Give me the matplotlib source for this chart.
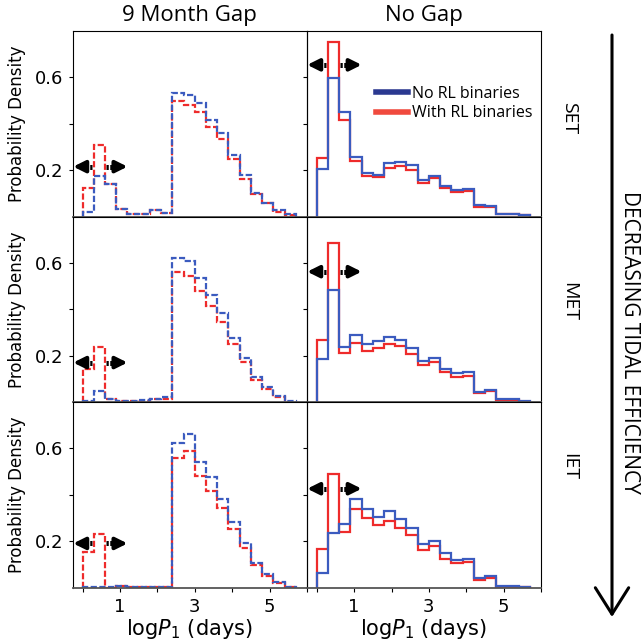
import matplotlib
matplotlib.use('Agg')
import matplotlib.pyplot as plt
from matplotlib.lines import Line2D
from matplotlib import font_manager as fm

# ---------------- data ----------------
bin_edges = [0.0, 0.3, 0.6, 0.9, 1.2, 1.5, 1.8, 2.1, 2.4, 2.7, 3.0,
             3.3, 3.6, 3.9, 4.2, 4.5, 4.8, 5.1, 5.4, 5.7]

set_gap_norl = [0.021, 0.176, 0.14, 0.033, 0.01, 0.01, 0.029, 0.017, 0.534, 0.526,
                0.489, 0.417, 0.36, 0.264, 0.179, 0.1, 0.06, 0.029, 0.01]
set_gap_rl = [0.121, 0.307, 0.14, 0.033, 0.01, 0.01, 0.029, 0.017, 0.497, 0.483,
              0.45, 0.386, 0.333, 0.246, 0.161, 0.096, 0.057, 0.021, 0.007]
set_nogap_norl = [0.207, 0.596, 0.45, 0.256, 0.189, 0.177, 0.229, 0.233, 0.221, 0.157,
                  0.176, 0.133, 0.114, 0.117, 0.05, 0.047, 0.011, 0.011, 0.007]
set_nogap_rl = [0.253, 0.754, 0.417, 0.239, 0.176, 0.17, 0.211, 0.216, 0.2, 0.146,
                0.167, 0.123, 0.107, 0.11, 0.043, 0.043, 0.01, 0.01, 0.007]

met_gap_norl = [0.004, 0.047, 0.015, 0.004, 0.004, 0.008, 0.014, 0.021, 0.622, 0.607,
                0.535, 0.463, 0.382, 0.278, 0.191, 0.109, 0.064, 0.027, 0.004]
met_gap_rl = [0.141, 0.238, 0.015, 0.004, 0.004, 0.006, 0.011, 0.014, 0.56, 0.545,
              0.477, 0.412, 0.343, 0.249, 0.172, 0.097, 0.054, 0.022, 0.002]
met_nogap_norl = [0.184, 0.483, 0.238, 0.288, 0.249, 0.261, 0.281, 0.269, 0.235, 0.177,
                  0.191, 0.141, 0.123, 0.129, 0.043, 0.053, 0.011, 0.011, 0.004]
met_nogap_rl = [0.269, 0.685, 0.212, 0.256, 0.22, 0.235, 0.249, 0.24, 0.209, 0.16,
                0.171, 0.131, 0.108, 0.112, 0.037, 0.047, 0.008, 0.008, 0.002]

iet_gap_norl = [0.001, 0.001, 0.001, 0.006, 0.004, 0.001, 0.001, 0.001, 0.625, 0.661,
                0.542, 0.475, 0.383, 0.281, 0.19, 0.107, 0.057, 0.023, 0.001]
iet_gap_rl = [0.151, 0.23, 0.0, 0.006, 0.004, 0.001, 0.001, 0.001, 0.557, 0.588,
              0.48, 0.417, 0.342, 0.252, 0.172, 0.096, 0.049, 0.02, 0.001]
iet_nogap_norl = [0.064, 0.236, 0.272, 0.381, 0.339, 0.306, 0.328, 0.296, 0.255, 0.186,
                  0.201, 0.149, 0.12, 0.125, 0.041, 0.049, 0.007, 0.007, 0.001]
iet_nogap_rl = [0.168, 0.491, 0.241, 0.338, 0.301, 0.27, 0.287, 0.258, 0.226, 0.161,
                0.178, 0.125, 0.107, 0.11, 0.033, 0.042, 0.004, 0.004, 0.001]

row_labels = ['SET', 'MET', 'IET']
col_titles = ['9 Month Gap', 'No Gap']
legend_labels = ['No RL binaries', 'With RL binaries']
x_ticks = [0, 1, 2, 3, 4, 5, 6]
x_tick_labels = ['', '1', '', '3', '', '5', '']
y_ticks = [0.2, 0.4, 0.6]
y_tick_labels = ['0.2', '', '0.6']
side_text = 'DECREASING TIDAL EFFICIENCY'

panels = [
    [(set_gap_norl, set_gap_rl), (set_nogap_norl, set_nogap_rl)],
    [(met_gap_norl, met_gap_rl), (met_nogap_norl, met_nogap_rl)],
    [(iet_gap_norl, iet_gap_rl), (iet_nogap_norl, iet_nogap_rl)],
]
# vertical position of the double arrows (annotation positions)
arrow_y = [[0.215, 0.654], [0.17, 0.562], [0.19, 0.426]]

# ---------------- style ----------------
BLUE = '#3b5bbf'
RED = '#ee2b2b'
LEG_BLUE = '#2b3990'
LEG_RED = '#f04a3e'


def has_font(name):
    try:
        fm.findfont(fm.FontProperties(family=name), fallback_to_default=False)
        return True
    except Exception:
        return False


NARROW = None
for cand in ['Liberation Sans Narrow', 'DejaVu Sans Condensed']:
    if has_font(cand):
        NARROW = cand
        break
HUMAN = 'Open Sans' if has_font('Open Sans') else 'DejaVu Sans'

W = H = 643.0
fig = plt.figure(figsize=(6.43, 6.43), dpi=100)

col_x = [72.5, 306.5]
col_w = 234.5
row_top = [31.0, 216.5, 402.0]
row_h = 185.5

for r in range(3):
    for c in range(2):
        ax = fig.add_axes([col_x[c] / W, 1 - (row_top[r] + row_h) / H, col_w / W, row_h / H])
        norl, rl = panels[r][c]
        ls = (0, (2.8, 1.1)) if c == 0 else '-'
        ax.stairs(rl, bin_edges, color=RED, lw=1.6, linestyle=ls, baseline=0)
        ax.stairs(norl, bin_edges, color=BLUE, lw=1.6, linestyle=ls, baseline=0)
        ax.set_ylim(0, 0.8)
        ax.set_xlim(-0.27 if c == 0 else -0.275, 6.0)
        ax.set_yticks(y_ticks)
        ax.set_xticks(x_ticks)
        ax.tick_params(axis='both', direction='out', length=3, width=0.8,
                       labelsize=13, pad=3.5)
        if c == 0:
            ax.set_yticklabels(y_tick_labels)
            ax.set_ylabel('Probability Density', fontsize=12)
            ax.yaxis.set_label_coords(-0.2, 0.5)
        else:
            ax.set_yticklabels([])
        if r == 2:
            ax.set_xticklabels(x_tick_labels)
            ax.tick_params(axis='x', pad=4.5)
            ax.set_xlabel(r'log$P_1$ (days)', fontsize=15)
            ax.xaxis.set_label_coords(0.5, -0.16)
        else:
            ax.tick_params(axis='x', length=0, labelbottom=False)
        for s in ['left', 'right', 'top']:
            ax.spines[s].set_linewidth(0.8)
            ax.spines[s].set_color('black')
        ax.spines['bottom'].set_linewidth(1.3)
        ax.spines['bottom'].set_color('#555555')
        ax.patch.set_alpha(0)

        # double arrow (dotted shaft near the middle, solid heads at the ends)
        y = arrow_y[r][c]
        x_left_tip = ax.get_xlim()[0] + 0.02
        for x_in, x_tip, sgn in [(0.26, x_left_tip, -1), (0.63, 1.2, 1)]:
            ax.plot([x_in, x_tip - sgn * 0.3], [y, y], color='black', lw=3.6,
                    linestyle=(0, (0.45, 0.3)), dash_capstyle='butt', clip_on=False)
            ax.annotate('', xy=(x_tip, y), xytext=(x_tip - sgn * 0.36, y),
                        arrowprops=dict(arrowstyle='-|>,head_length=0.7,head_width=0.35',
                                        color='black', lw=2.8, shrinkA=0, shrinkB=0,
                                        mutation_scale=10),
                        annotation_clip=False)

        if r == 0 and c == 1:
            handles = [Line2D([], [], color=LEG_BLUE, lw=4),
                       Line2D([], [], color=LEG_RED, lw=4)]
            fig.legend(handles, legend_labels, loc='upper left',
                       bbox_to_anchor=(376 / W, 1 - 86 / H), frameon=False,
                       prop={'family': HUMAN, 'size': 11.5}, handlelength=2.0,
                       handletextpad=0.25, labelspacing=0.2, borderpad=0,
                       borderaxespad=0)

# column titles
for c in range(2):
    fig.text((col_x[c] + col_w / 2) / W, 1 - 16 / H, col_titles[c], ha='center',
             va='center', fontsize=16, family=HUMAN)

# row labels
row_lab_y = [118, 302, 467]
nar = NARROW if NARROW else HUMAN
for r in range(3):
    fig.text(569 / W, 1 - row_lab_y[r] / H, row_labels[r], rotation=-90, ha='center',
             va='center', fontsize=14 if NARROW else 14, family=nar)

fig.text(629 / W, 1 - 342 / H, side_text, rotation=-90, ha='center', va='center',
         fontsize=15.5 if NARROW else 15, family=nar)

# big downward arrow
fig.add_artist(matplotlib.patches.FancyArrowPatch(
    (612 / W, 1 - 35 / H), (612 / W, 1 - 617 / H), transform=fig.transFigure,
    arrowstyle='->,head_length=0.95,head_width=0.6', mutation_scale=20,
    color='black', lw=2.2, shrinkA=0, shrinkB=0))

fig.savefig('out.png', dpi=100)
